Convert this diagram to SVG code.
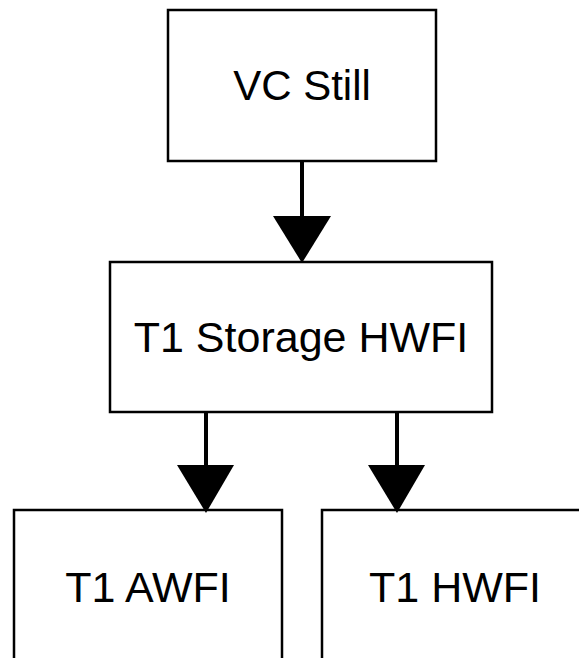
<svg xmlns="http://www.w3.org/2000/svg" width="579" height="658" viewBox="0 0 579 658">
<style>
.box{fill:#fff;stroke:#000;stroke-width:2.5}
.lbl{font-family:"Liberation Sans",Arial,sans-serif;font-size:43px;fill:#000;text-anchor:middle}
.shaft{stroke:#000;stroke-width:4;fill:none}
.head{fill:#000;stroke:none}
</style>
<rect width="579" height="658" fill="#fff"/>
<g id="vc-still">
<rect class="box" x="168" y="10" width="268" height="151"/>
<text class="lbl" x="302" y="100" style="font-size:42px">VC Still</text>
</g>
<g id="t1-storage-hwfi">
<rect class="box" x="110" y="262" width="382" height="150"/>
<text class="lbl" x="301" y="352">T1 Storage HWFI</text>
</g>
<g id="t1-awfi">
<rect class="box" x="14" y="510" width="268" height="160"/>
<text class="lbl" x="148" y="602">T1 AWFI</text>
</g>
<g id="t1-hwfi">
<rect class="box" x="322" y="510" width="268" height="160"/>
<text class="lbl" x="455" y="602">T1 HWFI</text>
</g>
<g id="connectors">
<line class="shaft" x1="302" y1="162" x2="302" y2="220"/>
<polygon class="head" points="273,216 331,216 302,263"/>
<line class="shaft" x1="206" y1="413" x2="206" y2="469"/>
<polygon class="head" points="177,465 234,465 206,513"/>
<line class="shaft" x1="397" y1="413" x2="397" y2="469"/>
<polygon class="head" points="368,465 425,465 397,513"/>
</g>
</svg>
